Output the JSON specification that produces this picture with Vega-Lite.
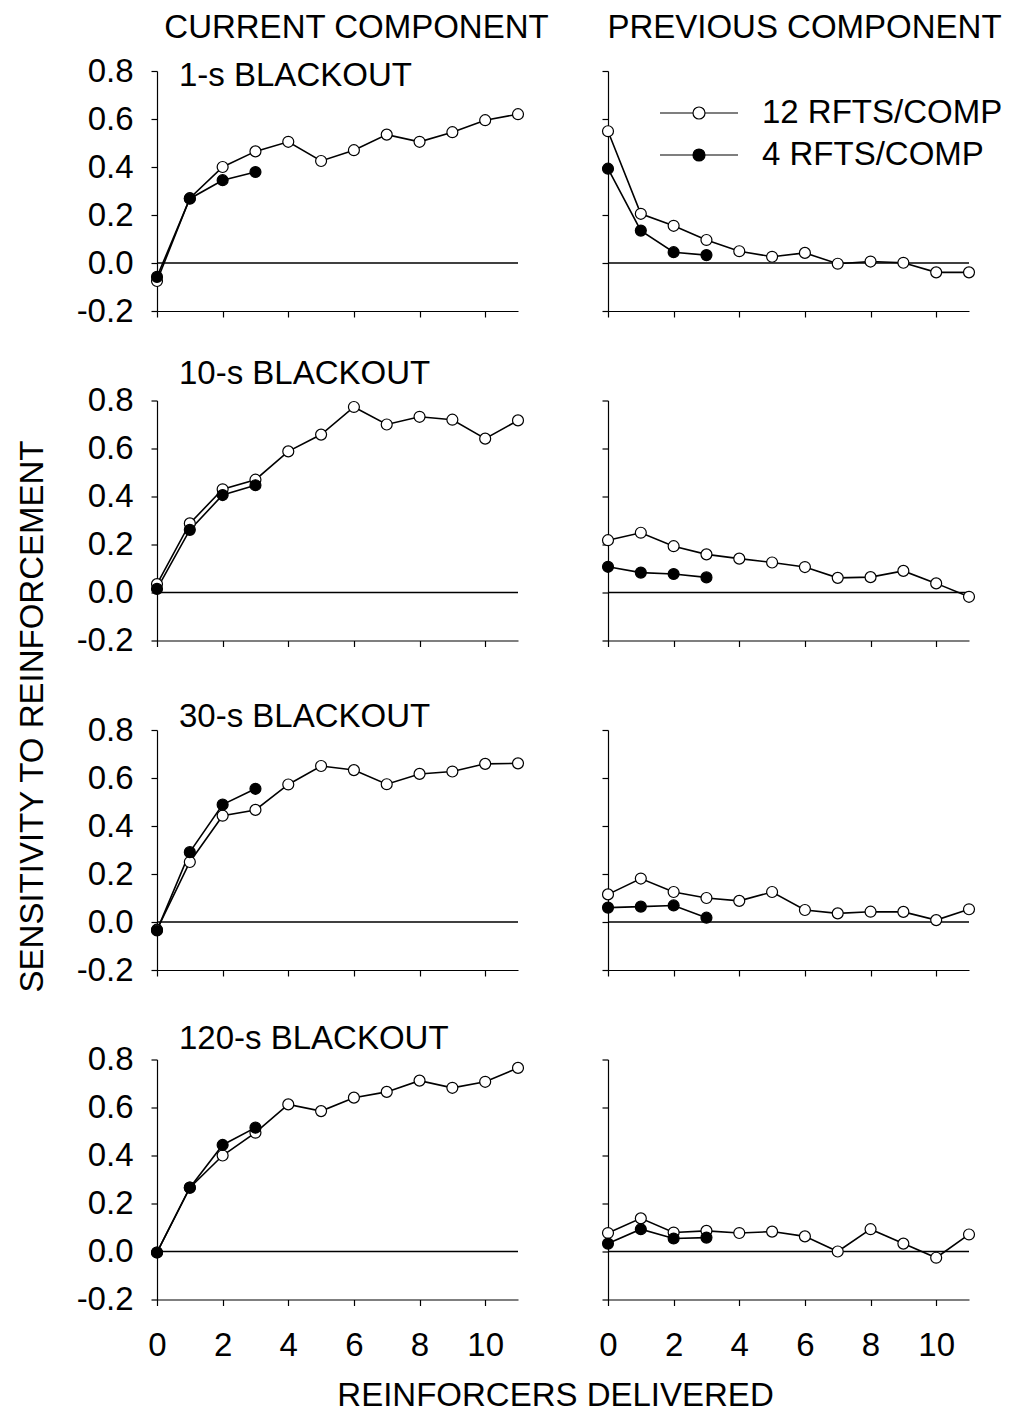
{
"$schema": "https://vega.github.io/schema/vega-lite/v6.json",
"autosize": {"type": "pad"},
"padding": {"left": 15, "top": 11, "right": 5, "bottom": 5},
"background": "white",
"data": {"values": [
{"c":"cur","b":1,"s":"12 RFTS/COMP","x":0,"y":-0.075},{"c":"cur","b":1,"s":"12 RFTS/COMP","x":1,"y":0.27},{"c":"cur","b":1,"s":"12 RFTS/COMP","x":2,"y":0.40},{"c":"cur","b":1,"s":"12 RFTS/COMP","x":3,"y":0.465},{"c":"cur","b":1,"s":"12 RFTS/COMP","x":4,"y":0.505},{"c":"cur","b":1,"s":"12 RFTS/COMP","x":5,"y":0.425},{"c":"cur","b":1,"s":"12 RFTS/COMP","x":6,"y":0.47},{"c":"cur","b":1,"s":"12 RFTS/COMP","x":7,"y":0.535},{"c":"cur","b":1,"s":"12 RFTS/COMP","x":8,"y":0.505},{"c":"cur","b":1,"s":"12 RFTS/COMP","x":9,"y":0.545},{"c":"cur","b":1,"s":"12 RFTS/COMP","x":10,"y":0.595},{"c":"cur","b":1,"s":"12 RFTS/COMP","x":11,"y":0.62},
{"c":"cur","b":1,"s":"4 RFTS/COMP","x":0,"y":-0.058},{"c":"cur","b":1,"s":"4 RFTS/COMP","x":1,"y":0.268},{"c":"cur","b":1,"s":"4 RFTS/COMP","x":2,"y":0.345},{"c":"cur","b":1,"s":"4 RFTS/COMP","x":3,"y":0.379},
{"c":"cur","b":10,"s":"12 RFTS/COMP","x":0,"y":0.035},{"c":"cur","b":10,"s":"12 RFTS/COMP","x":1,"y":0.288},{"c":"cur","b":10,"s":"12 RFTS/COMP","x":2,"y":0.43},{"c":"cur","b":10,"s":"12 RFTS/COMP","x":3,"y":0.47},{"c":"cur","b":10,"s":"12 RFTS/COMP","x":4,"y":0.588},{"c":"cur","b":10,"s":"12 RFTS/COMP","x":5,"y":0.658},{"c":"cur","b":10,"s":"12 RFTS/COMP","x":6,"y":0.773},{"c":"cur","b":10,"s":"12 RFTS/COMP","x":7,"y":0.70},{"c":"cur","b":10,"s":"12 RFTS/COMP","x":8,"y":0.732},{"c":"cur","b":10,"s":"12 RFTS/COMP","x":9,"y":0.72},{"c":"cur","b":10,"s":"12 RFTS/COMP","x":10,"y":0.641},{"c":"cur","b":10,"s":"12 RFTS/COMP","x":11,"y":0.717},
{"c":"cur","b":10,"s":"4 RFTS/COMP","x":0,"y":0.015},{"c":"cur","b":10,"s":"4 RFTS/COMP","x":1,"y":0.261},{"c":"cur","b":10,"s":"4 RFTS/COMP","x":2,"y":0.406},{"c":"cur","b":10,"s":"4 RFTS/COMP","x":3,"y":0.447},
{"c":"cur","b":30,"s":"12 RFTS/COMP","x":0,"y":-0.032},{"c":"cur","b":30,"s":"12 RFTS/COMP","x":1,"y":0.25},{"c":"cur","b":30,"s":"12 RFTS/COMP","x":2,"y":0.443},{"c":"cur","b":30,"s":"12 RFTS/COMP","x":3,"y":0.467},{"c":"cur","b":30,"s":"12 RFTS/COMP","x":4,"y":0.573},{"c":"cur","b":30,"s":"12 RFTS/COMP","x":5,"y":0.65},{"c":"cur","b":30,"s":"12 RFTS/COMP","x":6,"y":0.633},{"c":"cur","b":30,"s":"12 RFTS/COMP","x":7,"y":0.574},{"c":"cur","b":30,"s":"12 RFTS/COMP","x":8,"y":0.617},{"c":"cur","b":30,"s":"12 RFTS/COMP","x":9,"y":0.627},{"c":"cur","b":30,"s":"12 RFTS/COMP","x":10,"y":0.659},{"c":"cur","b":30,"s":"12 RFTS/COMP","x":11,"y":0.661},
{"c":"cur","b":30,"s":"4 RFTS/COMP","x":0,"y":-0.035},{"c":"cur","b":30,"s":"4 RFTS/COMP","x":1,"y":0.291},{"c":"cur","b":30,"s":"4 RFTS/COMP","x":2,"y":0.489},{"c":"cur","b":30,"s":"4 RFTS/COMP","x":3,"y":0.555},
{"c":"cur","b":120,"s":"12 RFTS/COMP","x":0,"y":-0.004},{"c":"cur","b":120,"s":"12 RFTS/COMP","x":1,"y":0.266},{"c":"cur","b":120,"s":"12 RFTS/COMP","x":2,"y":0.40},{"c":"cur","b":120,"s":"12 RFTS/COMP","x":3,"y":0.495},{"c":"cur","b":120,"s":"12 RFTS/COMP","x":4,"y":0.613},{"c":"cur","b":120,"s":"12 RFTS/COMP","x":5,"y":0.585},{"c":"cur","b":120,"s":"12 RFTS/COMP","x":6,"y":0.641},{"c":"cur","b":120,"s":"12 RFTS/COMP","x":7,"y":0.665},{"c":"cur","b":120,"s":"12 RFTS/COMP","x":8,"y":0.712},{"c":"cur","b":120,"s":"12 RFTS/COMP","x":9,"y":0.682},{"c":"cur","b":120,"s":"12 RFTS/COMP","x":10,"y":0.707},{"c":"cur","b":120,"s":"12 RFTS/COMP","x":11,"y":0.765},
{"c":"cur","b":120,"s":"4 RFTS/COMP","x":0,"y":-0.004},{"c":"cur","b":120,"s":"4 RFTS/COMP","x":1,"y":0.266},{"c":"cur","b":120,"s":"4 RFTS/COMP","x":2,"y":0.444},{"c":"cur","b":120,"s":"4 RFTS/COMP","x":3,"y":0.516},
{"c":"prev","b":1,"s":"12 RFTS/COMP","x":0,"y":0.549},{"c":"prev","b":1,"s":"12 RFTS/COMP","x":1,"y":0.205},{"c":"prev","b":1,"s":"12 RFTS/COMP","x":2,"y":0.155},{"c":"prev","b":1,"s":"12 RFTS/COMP","x":3,"y":0.096},{"c":"prev","b":1,"s":"12 RFTS/COMP","x":4,"y":0.049},{"c":"prev","b":1,"s":"12 RFTS/COMP","x":5,"y":0.026},{"c":"prev","b":1,"s":"12 RFTS/COMP","x":6,"y":0.042},{"c":"prev","b":1,"s":"12 RFTS/COMP","x":7,"y":-0.003},{"c":"prev","b":1,"s":"12 RFTS/COMP","x":8,"y":0.006},{"c":"prev","b":1,"s":"12 RFTS/COMP","x":9,"y":0.001},{"c":"prev","b":1,"s":"12 RFTS/COMP","x":10,"y":-0.039},{"c":"prev","b":1,"s":"12 RFTS/COMP","x":11,"y":-0.039},
{"c":"prev","b":1,"s":"4 RFTS/COMP","x":0,"y":0.393},{"c":"prev","b":1,"s":"4 RFTS/COMP","x":1,"y":0.135},{"c":"prev","b":1,"s":"4 RFTS/COMP","x":2,"y":0.045},{"c":"prev","b":1,"s":"4 RFTS/COMP","x":3,"y":0.033},
{"c":"prev","b":10,"s":"12 RFTS/COMP","x":0,"y":0.218},{"c":"prev","b":10,"s":"12 RFTS/COMP","x":1,"y":0.249},{"c":"prev","b":10,"s":"12 RFTS/COMP","x":2,"y":0.193},{"c":"prev","b":10,"s":"12 RFTS/COMP","x":3,"y":0.159},{"c":"prev","b":10,"s":"12 RFTS/COMP","x":4,"y":0.141},{"c":"prev","b":10,"s":"12 RFTS/COMP","x":5,"y":0.125},{"c":"prev","b":10,"s":"12 RFTS/COMP","x":6,"y":0.106},{"c":"prev","b":10,"s":"12 RFTS/COMP","x":7,"y":0.061},{"c":"prev","b":10,"s":"12 RFTS/COMP","x":8,"y":0.064},{"c":"prev","b":10,"s":"12 RFTS/COMP","x":9,"y":0.090},{"c":"prev","b":10,"s":"12 RFTS/COMP","x":10,"y":0.038},{"c":"prev","b":10,"s":"12 RFTS/COMP","x":11,"y":-0.018},
{"c":"prev","b":10,"s":"4 RFTS/COMP","x":0,"y":0.107},{"c":"prev","b":10,"s":"4 RFTS/COMP","x":1,"y":0.083},{"c":"prev","b":10,"s":"4 RFTS/COMP","x":2,"y":0.077},{"c":"prev","b":10,"s":"4 RFTS/COMP","x":3,"y":0.063},
{"c":"prev","b":30,"s":"12 RFTS/COMP","x":0,"y":0.115},{"c":"prev","b":30,"s":"12 RFTS/COMP","x":1,"y":0.181},{"c":"prev","b":30,"s":"12 RFTS/COMP","x":2,"y":0.125},{"c":"prev","b":30,"s":"12 RFTS/COMP","x":3,"y":0.100},{"c":"prev","b":30,"s":"12 RFTS/COMP","x":4,"y":0.088},{"c":"prev","b":30,"s":"12 RFTS/COMP","x":5,"y":0.125},{"c":"prev","b":30,"s":"12 RFTS/COMP","x":6,"y":0.050},{"c":"prev","b":30,"s":"12 RFTS/COMP","x":7,"y":0.036},{"c":"prev","b":30,"s":"12 RFTS/COMP","x":8,"y":0.043},{"c":"prev","b":30,"s":"12 RFTS/COMP","x":9,"y":0.042},{"c":"prev","b":30,"s":"12 RFTS/COMP","x":10,"y":0.008},{"c":"prev","b":30,"s":"12 RFTS/COMP","x":11,"y":0.053},
{"c":"prev","b":30,"s":"4 RFTS/COMP","x":0,"y":0.060},{"c":"prev","b":30,"s":"4 RFTS/COMP","x":1,"y":0.064},{"c":"prev","b":30,"s":"4 RFTS/COMP","x":2,"y":0.069},{"c":"prev","b":30,"s":"4 RFTS/COMP","x":3,"y":0.018},
{"c":"prev","b":120,"s":"12 RFTS/COMP","x":0,"y":0.077},{"c":"prev","b":120,"s":"12 RFTS/COMP","x":1,"y":0.138},{"c":"prev","b":120,"s":"12 RFTS/COMP","x":2,"y":0.079},{"c":"prev","b":120,"s":"12 RFTS/COMP","x":3,"y":0.086},{"c":"prev","b":120,"s":"12 RFTS/COMP","x":4,"y":0.077},{"c":"prev","b":120,"s":"12 RFTS/COMP","x":5,"y":0.083},{"c":"prev","b":120,"s":"12 RFTS/COMP","x":6,"y":0.063},{"c":"prev","b":120,"s":"12 RFTS/COMP","x":7,"y":0.0},{"c":"prev","b":120,"s":"12 RFTS/COMP","x":8,"y":0.093},{"c":"prev","b":120,"s":"12 RFTS/COMP","x":9,"y":0.033},{"c":"prev","b":120,"s":"12 RFTS/COMP","x":10,"y":-0.026},{"c":"prev","b":120,"s":"12 RFTS/COMP","x":11,"y":0.071},
{"c":"prev","b":120,"s":"4 RFTS/COMP","x":0,"y":0.033},{"c":"prev","b":120,"s":"4 RFTS/COMP","x":1,"y":0.093},{"c":"prev","b":120,"s":"4 RFTS/COMP","x":2,"y":0.054},{"c":"prev","b":120,"s":"4 RFTS/COMP","x":3,"y":0.058}
]},
"columns": 2,
"bounds": "flush",
"spacing": {"row": 89.5, "column": 90},
"resolve": {"scale": {"fill": "independent"}, "legend": {"fill": "independent"}},
"concat": [
{
 "width": 361, "height": 240,
 "title": {"text": "1-s BLACKOUT", "offset": -82},
 "resolve": {"axis": {"x": "independent"}},
 "layer": [
  {"data": {"values": [{}]}, "mark": {"type": "rule", "color": "black", "strokeWidth": 1.5},
   "encoding": {"y": {"datum": 0, "type": "quantitative", "scale": {"domain": [-0.2, 0.8], "nice": false, "zero": false}, "axis": {"values": [-0.2, 0, 0.2, 0.4, 0.6, 0.8], "format": ".1f", "labelExpr": "replace(datum.label,'\u2212','-')", "labelPadding": 18, "title": null}}}},
  {"transform": [{"filter": "datum.c=='cur' && datum.b==1"}], "mark": {"type": "line", "color": "black", "strokeWidth": 1.6},
   "encoding": {"x": {"field": "x", "type": "quantitative", "scale": {"domain": [0, 11], "nice": false, "zero": false}, "axis": {"orient": "top", "domain": false, "ticks": false, "labels": false, "title": "CURRENT COMPONENT", "titleX": 199, "titleY": -34, "titleAlign": "center", "titleBaseline": "alphabetic", "titleAngle": 0}},
    "y": {"field": "y", "type": "quantitative", "scale": {"domain": [-0.2, 0.8], "nice": false, "zero": false}, "axis": {"values": [-0.2, 0, 0.2, 0.4, 0.6, 0.8], "format": ".1f", "labelExpr": "replace(datum.label,'\u2212','-')", "labelPadding": 18, "title": null}},
    "detail": {"field": "s"}}},
  {"transform": [{"filter": "datum.c=='cur' && datum.b==1"}], "mark": {"type": "point", "filled": true, "stroke": "black", "strokeWidth": 1.2, "size": 120, "opacity": 1},
   "encoding": {"x": {"field": "x", "type": "quantitative", "scale": {"domain": [0, 11], "nice": false, "zero": false}, "axis": {"values": [0, 2, 4, 6, 8, 10], "labels": false, "title": null}},
    "y": {"field": "y", "type": "quantitative", "scale": {"domain": [-0.2, 0.8], "nice": false, "zero": false}, "axis": {"values": [-0.2, 0, 0.2, 0.4, 0.6, 0.8], "format": ".1f", "labelExpr": "replace(datum.label,'\u2212','-')", "labelPadding": 18, "title": null}},
    "fill": {"field": "s", "type": "nominal", "scale": {"domain": ["12 RFTS/COMP", "4 RFTS/COMP"], "range": ["white", "black"]}, "legend": null}}}
 ]
},
{
 "width": 361, "height": 240,
 "resolve": {"axis": {"x": "independent"}},
 "layer": [
  {"data": {"values": [{}]}, "mark": {"type": "rule", "color": "black", "strokeWidth": 1.5},
   "encoding": {"y": {"datum": 0, "type": "quantitative", "scale": {"domain": [-0.2, 0.8], "nice": false, "zero": false}, "axis": {"values": [-0.2, 0, 0.2, 0.4, 0.6, 0.8], "labels": false, "title": null}}}},
  {"transform": [{"filter": "datum.c=='prev' && datum.b==1"}], "mark": {"type": "line", "color": "black", "strokeWidth": 1.6},
   "encoding": {"x": {"field": "x", "type": "quantitative", "scale": {"domain": [0, 11], "nice": false, "zero": false}, "axis": {"orient": "top", "domain": false, "ticks": false, "labels": false, "title": "PREVIOUS COMPONENT", "titleX": 196, "titleY": -34, "titleAlign": "center", "titleBaseline": "alphabetic", "titleAngle": 0}},
    "y": {"field": "y", "type": "quantitative", "scale": {"domain": [-0.2, 0.8], "nice": false, "zero": false}, "axis": {"values": [-0.2, 0, 0.2, 0.4, 0.6, 0.8], "labels": false, "title": null}},
    "detail": {"field": "s"}}},
  {"transform": [{"filter": "datum.c=='prev' && datum.b==1"}], "mark": {"type": "point", "filled": true, "stroke": "black", "strokeWidth": 1.2, "size": 120, "opacity": 1},
   "encoding": {"x": {"field": "x", "type": "quantitative", "scale": {"domain": [0, 11], "nice": false, "zero": false}, "axis": {"values": [0, 2, 4, 6, 8, 10], "labels": false, "title": null}},
    "y": {"field": "y", "type": "quantitative", "scale": {"domain": [-0.2, 0.8], "nice": false, "zero": false}, "axis": {"values": [-0.2, 0, 0.2, 0.4, 0.6, 0.8], "labels": false, "title": null}},
    "fill": {"field": "s", "type": "nominal", "scale": {"domain": ["12 RFTS/COMP", "4 RFTS/COMP"], "range": ["white", "black"]},
     "legend": {"title": null, "orient": "none", "legendX": 51, "legendY": 22, "padding": 0, "offset": 0, "rowPadding": 2, "clipHeight": 40,
      "symbolType": "M-1,0L-0.154,0M0.154,0L1,0M0.154,0A0.154,0.154,0,1,1,-0.154,0A0.154,0.154,0,1,1,0.154,0Z",
      "symbolSize": 6084, "symbolStrokeColor": "black", "symbolStrokeWidth": 1.2, "symbolOpacity": 1,
      "labelFont": "Liberation Sans", "labelFontSize": 33, "labelColor": "black", "labelOffset": 23, "labelLimit": 500}}}}
 ]
},
{
 "width": 361, "height": 240,
 "title": {"text": "10-s BLACKOUT", "offset": -6},
 "layer": [
  {"data": {"values": [{}]}, "mark": {"type": "rule", "color": "black", "strokeWidth": 1.5},
   "encoding": {"y": {"datum": 0, "type": "quantitative", "scale": {"domain": [-0.2, 0.8], "nice": false, "zero": false}, "axis": {"values": [-0.2, 0, 0.2, 0.4, 0.6, 0.8], "format": ".1f", "labelExpr": "replace(datum.label,'\u2212','-')", "labelPadding": 18, "title": null}}}},
  {"transform": [{"filter": "datum.c=='cur' && datum.b==10"}], "mark": {"type": "line", "color": "black", "strokeWidth": 1.6},
   "encoding": {"x": {"field": "x", "type": "quantitative", "scale": {"domain": [0, 11], "nice": false, "zero": false}, "axis": {"values": [0, 2, 4, 6, 8, 10], "labels": false, "title": null}},
    "y": {"field": "y", "type": "quantitative", "scale": {"domain": [-0.2, 0.8], "nice": false, "zero": false}, "axis": {"values": [-0.2, 0, 0.2, 0.4, 0.6, 0.8], "format": ".1f", "labelExpr": "replace(datum.label,'\u2212','-')", "labelPadding": 18, "title": null}},
    "detail": {"field": "s"}}},
  {"transform": [{"filter": "datum.c=='cur' && datum.b==10"}], "mark": {"type": "point", "filled": true, "stroke": "black", "strokeWidth": 1.2, "size": 120, "opacity": 1},
   "encoding": {"x": {"field": "x", "type": "quantitative", "scale": {"domain": [0, 11], "nice": false, "zero": false}, "axis": {"values": [0, 2, 4, 6, 8, 10], "labels": false, "title": null}},
    "y": {"field": "y", "type": "quantitative", "scale": {"domain": [-0.2, 0.8], "nice": false, "zero": false}, "axis": {"values": [-0.2, 0, 0.2, 0.4, 0.6, 0.8], "format": ".1f", "labelExpr": "replace(datum.label,'\u2212','-')", "labelPadding": 18, "title": null}},
    "fill": {"field": "s", "type": "nominal", "scale": {"domain": ["12 RFTS/COMP", "4 RFTS/COMP"], "range": ["white", "black"]}, "legend": null}}}
 ]
},
{
 "width": 361, "height": 240,
 "layer": [
  {"data": {"values": [{}]}, "mark": {"type": "rule", "color": "black", "strokeWidth": 1.5},
   "encoding": {"y": {"datum": 0, "type": "quantitative", "scale": {"domain": [-0.2, 0.8], "nice": false, "zero": false}, "axis": {"values": [-0.2, 0, 0.2, 0.4, 0.6, 0.8], "labels": false, "title": null}}}},
  {"transform": [{"filter": "datum.c=='prev' && datum.b==10"}], "mark": {"type": "line", "color": "black", "strokeWidth": 1.6},
   "encoding": {"x": {"field": "x", "type": "quantitative", "scale": {"domain": [0, 11], "nice": false, "zero": false}, "axis": {"values": [0, 2, 4, 6, 8, 10], "labels": false, "title": null}},
    "y": {"field": "y", "type": "quantitative", "scale": {"domain": [-0.2, 0.8], "nice": false, "zero": false}, "axis": {"values": [-0.2, 0, 0.2, 0.4, 0.6, 0.8], "labels": false, "title": null}},
    "detail": {"field": "s"}}},
  {"transform": [{"filter": "datum.c=='prev' && datum.b==10"}], "mark": {"type": "point", "filled": true, "stroke": "black", "strokeWidth": 1.2, "size": 120, "opacity": 1},
   "encoding": {"x": {"field": "x", "type": "quantitative", "scale": {"domain": [0, 11], "nice": false, "zero": false}, "axis": {"values": [0, 2, 4, 6, 8, 10], "labels": false, "title": null}},
    "y": {"field": "y", "type": "quantitative", "scale": {"domain": [-0.2, 0.8], "nice": false, "zero": false}, "axis": {"values": [-0.2, 0, 0.2, 0.4, 0.6, 0.8], "labels": false, "title": null}},
    "fill": {"field": "s", "type": "nominal", "scale": {"domain": ["12 RFTS/COMP", "4 RFTS/COMP"], "range": ["white", "black"]}, "legend": null}}}
 ]
},
{
 "width": 361, "height": 240,
 "title": {"text": "30-s BLACKOUT", "offset": -20},
 "layer": [
  {"data": {"values": [{}]}, "mark": {"type": "rule", "color": "black", "strokeWidth": 1.5},
   "encoding": {"y": {"datum": 0, "type": "quantitative", "scale": {"domain": [-0.2, 0.8], "nice": false, "zero": false}, "axis": {"values": [-0.2, 0, 0.2, 0.4, 0.6, 0.8], "format": ".1f", "labelExpr": "replace(datum.label,'\u2212','-')", "labelPadding": 18, "title": null}}}},
  {"transform": [{"filter": "datum.c=='cur' && datum.b==30"}], "mark": {"type": "line", "color": "black", "strokeWidth": 1.6},
   "encoding": {"x": {"field": "x", "type": "quantitative", "scale": {"domain": [0, 11], "nice": false, "zero": false}, "axis": {"values": [0, 2, 4, 6, 8, 10], "labels": false, "title": null}},
    "y": {"field": "y", "type": "quantitative", "scale": {"domain": [-0.2, 0.8], "nice": false, "zero": false}, "axis": {"values": [-0.2, 0, 0.2, 0.4, 0.6, 0.8], "format": ".1f", "labelExpr": "replace(datum.label,'\u2212','-')", "labelPadding": 18, "title": null}},
    "detail": {"field": "s"}}},
  {"transform": [{"filter": "datum.c=='cur' && datum.b==30"}], "mark": {"type": "point", "filled": true, "stroke": "black", "strokeWidth": 1.2, "size": 120, "opacity": 1},
   "encoding": {"x": {"field": "x", "type": "quantitative", "scale": {"domain": [0, 11], "nice": false, "zero": false}, "axis": {"values": [0, 2, 4, 6, 8, 10], "labels": false, "title": null}},
    "y": {"field": "y", "type": "quantitative", "scale": {"domain": [-0.2, 0.8], "nice": false, "zero": false}, "axis": {"values": [-0.2, 0, 0.2, 0.4, 0.6, 0.8], "format": ".1f", "labelExpr": "replace(datum.label,'\u2212','-')", "labelPadding": 18, "title": null}},
    "fill": {"field": "s", "type": "nominal", "scale": {"domain": ["12 RFTS/COMP", "4 RFTS/COMP"], "range": ["white", "black"]}, "legend": null}}}
 ]
},
{
 "width": 361, "height": 240,
 "layer": [
  {"data": {"values": [{}]}, "mark": {"type": "rule", "color": "black", "strokeWidth": 1.5},
   "encoding": {"y": {"datum": 0, "type": "quantitative", "scale": {"domain": [-0.2, 0.8], "nice": false, "zero": false}, "axis": {"values": [-0.2, 0, 0.2, 0.4, 0.6, 0.8], "labels": false, "title": "SENSITIVITY TO REINFORCEMENT", "titleX": -576, "titleY": -14, "titleAlign": "center", "titleBaseline": "middle", "titleAngle": 270}}}},
  {"transform": [{"filter": "datum.c=='prev' && datum.b==30"}], "mark": {"type": "line", "color": "black", "strokeWidth": 1.6},
   "encoding": {"x": {"field": "x", "type": "quantitative", "scale": {"domain": [0, 11], "nice": false, "zero": false}, "axis": {"values": [0, 2, 4, 6, 8, 10], "labels": false, "title": null}},
    "y": {"field": "y", "type": "quantitative", "scale": {"domain": [-0.2, 0.8], "nice": false, "zero": false}, "axis": {"values": [-0.2, 0, 0.2, 0.4, 0.6, 0.8], "labels": false, "title": "SENSITIVITY TO REINFORCEMENT", "titleX": -576, "titleY": -14, "titleAlign": "center", "titleBaseline": "middle", "titleAngle": 270}},
    "detail": {"field": "s"}}},
  {"transform": [{"filter": "datum.c=='prev' && datum.b==30"}], "mark": {"type": "point", "filled": true, "stroke": "black", "strokeWidth": 1.2, "size": 120, "opacity": 1},
   "encoding": {"x": {"field": "x", "type": "quantitative", "scale": {"domain": [0, 11], "nice": false, "zero": false}, "axis": {"values": [0, 2, 4, 6, 8, 10], "labels": false, "title": null}},
    "y": {"field": "y", "type": "quantitative", "scale": {"domain": [-0.2, 0.8], "nice": false, "zero": false}, "axis": {"values": [-0.2, 0, 0.2, 0.4, 0.6, 0.8], "labels": false, "title": "SENSITIVITY TO REINFORCEMENT", "titleX": -576, "titleY": -14, "titleAlign": "center", "titleBaseline": "middle", "titleAngle": 270}},
    "fill": {"field": "s", "type": "nominal", "scale": {"domain": ["12 RFTS/COMP", "4 RFTS/COMP"], "range": ["white", "black"]}, "legend": null}}}
 ]
},
{
 "width": 361, "height": 240,
 "title": {"text": "120-s BLACKOUT", "offset": -12},
 "layer": [
  {"data": {"values": [{}]}, "mark": {"type": "rule", "color": "black", "strokeWidth": 1.5},
   "encoding": {"y": {"datum": 0, "type": "quantitative", "scale": {"domain": [-0.2, 0.8], "nice": false, "zero": false}, "axis": {"values": [-0.2, 0, 0.2, 0.4, 0.6, 0.8], "format": ".1f", "labelExpr": "replace(datum.label,'\u2212','-')", "labelPadding": 18, "title": null}}}},
  {"transform": [{"filter": "datum.c=='cur' && datum.b==120"}], "mark": {"type": "line", "color": "black", "strokeWidth": 1.6},
   "encoding": {"x": {"field": "x", "type": "quantitative", "scale": {"domain": [0, 11], "nice": false, "zero": false}, "axis": {"values": [0, 2, 4, 6, 8, 10], "labelPadding": 24, "title": "REINFORCERS DELIVERED", "titleX": 398, "titleY": 106, "titleAlign": "center", "titleBaseline": "alphabetic"}},
    "y": {"field": "y", "type": "quantitative", "scale": {"domain": [-0.2, 0.8], "nice": false, "zero": false}, "axis": {"values": [-0.2, 0, 0.2, 0.4, 0.6, 0.8], "format": ".1f", "labelExpr": "replace(datum.label,'\u2212','-')", "labelPadding": 18, "title": null}},
    "detail": {"field": "s"}}},
  {"transform": [{"filter": "datum.c=='cur' && datum.b==120"}], "mark": {"type": "point", "filled": true, "stroke": "black", "strokeWidth": 1.2, "size": 120, "opacity": 1},
   "encoding": {"x": {"field": "x", "type": "quantitative", "scale": {"domain": [0, 11], "nice": false, "zero": false}, "axis": {"values": [0, 2, 4, 6, 8, 10], "labelPadding": 24, "title": "REINFORCERS DELIVERED", "titleX": 398, "titleY": 106, "titleAlign": "center", "titleBaseline": "alphabetic"}},
    "y": {"field": "y", "type": "quantitative", "scale": {"domain": [-0.2, 0.8], "nice": false, "zero": false}, "axis": {"values": [-0.2, 0, 0.2, 0.4, 0.6, 0.8], "format": ".1f", "labelExpr": "replace(datum.label,'\u2212','-')", "labelPadding": 18, "title": null}},
    "fill": {"field": "s", "type": "nominal", "scale": {"domain": ["12 RFTS/COMP", "4 RFTS/COMP"], "range": ["white", "black"]}, "legend": null}}}
 ]
},
{
 "width": 361, "height": 240,
 "layer": [
  {"data": {"values": [{}]}, "mark": {"type": "rule", "color": "black", "strokeWidth": 1.5},
   "encoding": {"y": {"datum": 0, "type": "quantitative", "scale": {"domain": [-0.2, 0.8], "nice": false, "zero": false}, "axis": {"values": [-0.2, 0, 0.2, 0.4, 0.6, 0.8], "labels": false, "title": null}}}},
  {"transform": [{"filter": "datum.c=='prev' && datum.b==120"}], "mark": {"type": "line", "color": "black", "strokeWidth": 1.6},
   "encoding": {"x": {"field": "x", "type": "quantitative", "scale": {"domain": [0, 11], "nice": false, "zero": false}, "axis": {"values": [0, 2, 4, 6, 8, 10], "labelPadding": 24, "title": null}},
    "y": {"field": "y", "type": "quantitative", "scale": {"domain": [-0.2, 0.8], "nice": false, "zero": false}, "axis": {"values": [-0.2, 0, 0.2, 0.4, 0.6, 0.8], "labels": false, "title": null}},
    "detail": {"field": "s"}}},
  {"transform": [{"filter": "datum.c=='prev' && datum.b==120"}], "mark": {"type": "point", "filled": true, "stroke": "black", "strokeWidth": 1.2, "size": 120, "opacity": 1},
   "encoding": {"x": {"field": "x", "type": "quantitative", "scale": {"domain": [0, 11], "nice": false, "zero": false}, "axis": {"values": [0, 2, 4, 6, 8, 10], "labelPadding": 24, "title": null}},
    "y": {"field": "y", "type": "quantitative", "scale": {"domain": [-0.2, 0.8], "nice": false, "zero": false}, "axis": {"values": [-0.2, 0, 0.2, 0.4, 0.6, 0.8], "labels": false, "title": null}},
    "fill": {"field": "s", "type": "nominal", "scale": {"domain": ["12 RFTS/COMP", "4 RFTS/COMP"], "range": ["white", "black"]}, "legend": null}}}
 ]
}
],
"config": {
 "view": {"stroke": null},
 "font": "Liberation Sans",
 "axis": {"domainColor": "black", "domainWidth": 1.2, "tickColor": "black", "tickWidth": 1.2, "tickSize": 6, "grid": false,
  "labelFont": "Liberation Sans", "labelFontSize": 33, "labelColor": "black", "labelFlush": false, "labelOverlap": false, "labelBound": false,
  "titleFont": "Liberation Sans", "titleFontSize": 33, "titleFontWeight": "normal", "titleColor": "black", "titlePadding": 0},
 "title": {"font": "Liberation Sans", "fontSize": 33, "fontWeight": "normal", "color": "black", "anchor": "start", "frame": "group", "baseline": "alphabetic", "dx": 22},
 "legend": {"labelFont": "Liberation Sans", "labelFontSize": 33, "labelColor": "black"}
}
}
